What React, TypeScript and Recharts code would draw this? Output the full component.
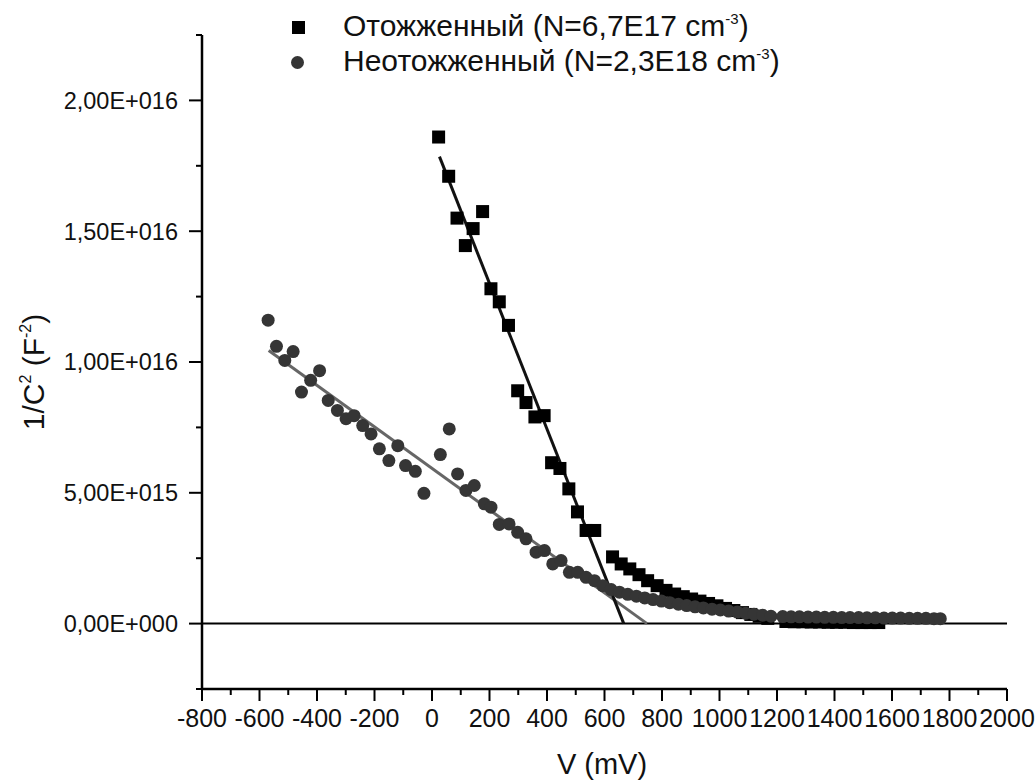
import React from "react";
import {
  ComposedChart,
  Scatter,
  Line,
  XAxis,
  YAxis,
  ReferenceLine,
  Legend,
} from "recharts";

// V in mV, 1/C^2 in units of 1E15 F^-2
const annealedV = [
  23, 58, 87, 116, 143, 176, 205, 234, 266, 298, 327, 358, 390, 416, 445, 476,
  506, 536, 566, 628, 658, 688, 720, 750, 783, 814, 844, 874, 903, 932, 962,
  991, 1021, 1050, 1080, 1109, 1138, 1168, 1231, 1260, 1290, 1319, 1348, 1378,
  1407, 1436, 1466, 1495, 1524, 1554,
];
const annealedE15 = [
  18.6, 17.1, 15.5, 14.45, 15.1, 15.75, 12.8, 12.3, 11.4, 8.9, 8.45, 7.9,
  7.95, 6.15, 5.93, 5.15, 4.27, 3.56, 3.56, 2.55, 2.28, 2.09, 1.87, 1.64, 1.45,
  1.27, 1.13, 1.03, 0.94, 0.86, 0.77, 0.68, 0.58, 0.5, 0.42, 0.35, 0.28, 0.2,
  0.08, 0.07, 0.07, 0.06, 0.06, 0.05, 0.05, 0.05, 0.04, 0.04, 0.04, 0.04,
];

const unannealedV = [
  -570, -541, -512, -483, -454, -422, -391, -361, -329, -299, -271, -241, -212,
  -183, -150, -119, -92, -58, -28, 29, 60, 89, 118, 147, 182, 205, 234, 268,
  298, 327, 362, 391, 420, 449, 478, 507, 536, 565, 594, 623, 652, 681, 711,
  740, 769, 798, 827, 857, 886, 915, 944, 974, 1003, 1032, 1062, 1091, 1120,
  1150, 1179, 1220, 1249, 1278, 1308, 1337, 1366, 1396, 1425, 1454, 1484, 1513,
  1542, 1572, 1601, 1630, 1660, 1689, 1718, 1746, 1768,
];
const unannealedE15 = [
  11.6, 10.6, 10.06, 10.4, 8.85, 9.3, 9.67, 8.53, 8.15, 7.83, 7.95, 7.57, 7.25,
  6.68, 6.23, 6.8, 6.04, 5.82, 4.98, 6.46, 7.44, 5.72, 5.09, 5.28, 4.58, 4.45,
  3.79, 3.81, 3.49, 3.24, 2.73, 2.79, 2.28, 2.41, 1.96, 1.96, 1.77, 1.64, 1.45,
  1.3, 1.2, 1.12, 1.05, 0.98, 0.92, 0.86, 0.8, 0.74, 0.69, 0.64, 0.6, 0.55,
  0.52, 0.48, 0.44, 0.4, 0.36, 0.32, 0.28, 0.27, 0.26, 0.26, 0.25, 0.25, 0.24,
  0.24, 0.23, 0.23, 0.23, 0.22, 0.22, 0.21, 0.21, 0.21, 0.2, 0.2, 0.2, 0.19,
  0.19,
];

// linear fits
const annealedFitV = [26, 667];
const annealedFitE15 = [17.85, 0];
const unannealedFitV = [-568, 748];
const unannealedFitE15 = [10.44, 0];

const xTicks = [
  -800, -700, -600, -500, -400, -300, -200, -100, 0, 100, 200, 300, 400, 500,
  600, 700, 800, 900, 1000, 1100, 1200, 1300, 1400, 1500, 1600, 1700, 1800,
  1900, 2000,
];
const xMajorTicks = [
  -800, -600, -400, -200, 0, 200, 400, 600, 800, 1000, 1200, 1400, 1600, 1800,
  2000,
];
const yTicks = [
  -2.5e15, 0, 2.5e15, 5e15, 7.5e15, 1e16, 1.25e16, 1.5e16, 1.75e16, 2e16,
  2.25e16,
];
const yMajorTicks = [0, 5e15, 1e16, 1.5e16, 2e16];
const yTickLabels = [
  "0,00E+000",
  "5,00E+015",
  "1,00E+016",
  "1,50E+016",
  "2,00E+016",
];

const toPoints = (xs: number[], ys: number[]) =>
  xs.map((x, i) => ({ x, y: ys[i] * 1e15 }));

const annealed = toPoints(annealedV, annealedE15);
const unannealed = toPoints(unannealedV, unannealedE15);
const annealedFit = toPoints(annealedFitV, annealedFitE15);
const unannealedFit = toPoints(unannealedFitV, unannealedFitE15);

const FONT = "'Liberation Sans', Arial, sans-serif";

const XTick = ({ x, y, payload }: any) => {
  const major = xMajorTicks.includes(payload.value);
  return (
    <g>
      <line x1={x} x2={x} y1={y} y2={y + (major ? 12 : 6)} stroke="#000" strokeWidth={2} />
      {major && (
        <text x={x} y={y + 38} textAnchor="middle" fontSize={25} fontFamily={FONT} fill="#111">
          {payload.value}
        </text>
      )}
    </g>
  );
};

const YTick = ({ x, y, payload }: any) => {
  const idx = yMajorTicks.indexOf(payload.value);
  const major = idx >= 0;
  return (
    <g>
      <line x1={x - (major ? 13 : 6)} x2={x} y1={y} y2={y} stroke="#000" strokeWidth={2} />
      {major && (
        <text x={x - 24} y={y} dy="0.36em" textAnchor="end" fontSize={23.5} fontFamily={FONT} fill="#111">
          {yTickLabels[idx]}
        </text>
      )}
    </g>
  );
};

const Square = ({ cx, cy }: any) => (
  <rect x={cx - 6.5} y={cy - 6.5} width={13} height={13} fill="#000" />
);
const Dot = ({ cx, cy }: any) => <circle cx={cx} cy={cy} r={6.5} fill="#353535" />;

const supStyle: React.CSSProperties = {
  fontSize: 15,
  verticalAlign: "baseline",
  position: "relative",
  top: -12,
};

const LegendBox = () => (
  <div style={{ fontFamily: FONT, fontSize: 30, color: "#111", lineHeight: "35px" }}>
    <div style={{ display: "flex", alignItems: "center", height: 35 }}>
      <span style={{ width: 13, height: 13, background: "#000", display: "inline-block", marginLeft: 7, marginRight: 38 }} />
      <span>
        Отожженный (N=6,7E17 cm<sup style={supStyle}>-3</sup>)
      </span>
    </div>
    <div style={{ display: "flex", alignItems: "center", height: 35 }}>
      <span style={{ width: 13, height: 13, borderRadius: "50%", background: "#353535", display: "inline-block", marginLeft: 6, marginRight: 39 }} />
      <span>
        Неотожженный (N=2,3E18 cm<sup style={supStyle}>-3</sup>)
      </span>
    </div>
  </div>
);

export default function App() {
  return (
    <div style={{ position: "absolute", left: 0, top: 0, width: 1035, height: 780, background: "#fff" }}>
      <ComposedChart
        width={1035}
        height={780}
        margin={{ top: 35, right: 28, left: 12, bottom: 31 }}
      >
        <XAxis
          type="number"
          dataKey="x"
          domain={[-800, 2000]}
          ticks={xTicks}
          interval={0}
          tickSize={0}
          tickMargin={0}
          tickLine={false}
          tick={<XTick />}
          axisLine={{ stroke: "#000", strokeWidth: 2.5 }}
          height={60}
          allowDataOverflow
          label={{
            content: () => (
              <text x={602} y={774} textAnchor="middle" fontSize={29} fontFamily={FONT} fill="#111">
                V (mV)
              </text>
            ),
          }}
        />
        <YAxis
          type="number"
          dataKey="y"
          domain={[-2.5e15, 2.25e16]}
          ticks={yTicks}
          interval={0}
          tickSize={0}
          tickMargin={0}
          tickLine={false}
          tick={<YTick />}
          axisLine={{ stroke: "#000", strokeWidth: 2.5 }}
          width={190}
          allowDataOverflow
          label={{
            content: () => (
              <text
                x={44}
                y={372}
                textAnchor="middle"
                fontSize={30}
                fontFamily={FONT}
                fill="#111"
                transform="rotate(-90, 44, 372)"
              >
                1/C
                <tspan dy={-13} fontSize={16}>2</tspan>
                <tspan dy={13}> (F</tspan>
                <tspan dy={-13} fontSize={16}>-2</tspan>
                <tspan dy={13}>)</tspan>
              </text>
            ),
          }}
        />
        <ReferenceLine y={0} stroke="#000" strokeWidth={2} />
        <Legend
          layout="vertical"
          align="center"
          verticalAlign="middle"
          wrapperStyle={{ top: 10, left: 285, width: 560 }}
          content={<LegendBox />}
        />
        <Scatter name="annealed" data={annealed} dataKey="y" shape={<Square />} isAnimationActive={false} />
        <Scatter name="unannealed" data={unannealed} dataKey="y" shape={<Dot />} isAnimationActive={false} />
        <Line
          data={unannealedFit}
          dataKey="y"
          type="linear"
          stroke="#666"
          strokeWidth={3}
          dot={false}
          activeDot={false}
          legendType="none"
          isAnimationActive={false}
        />
        <Line
          data={annealedFit}
          dataKey="y"
          type="linear"
          stroke="#111"
          strokeWidth={3}
          dot={false}
          activeDot={false}
          legendType="none"
          isAnimationActive={false}
        />
      </ComposedChart>
    </div>
  );
}
